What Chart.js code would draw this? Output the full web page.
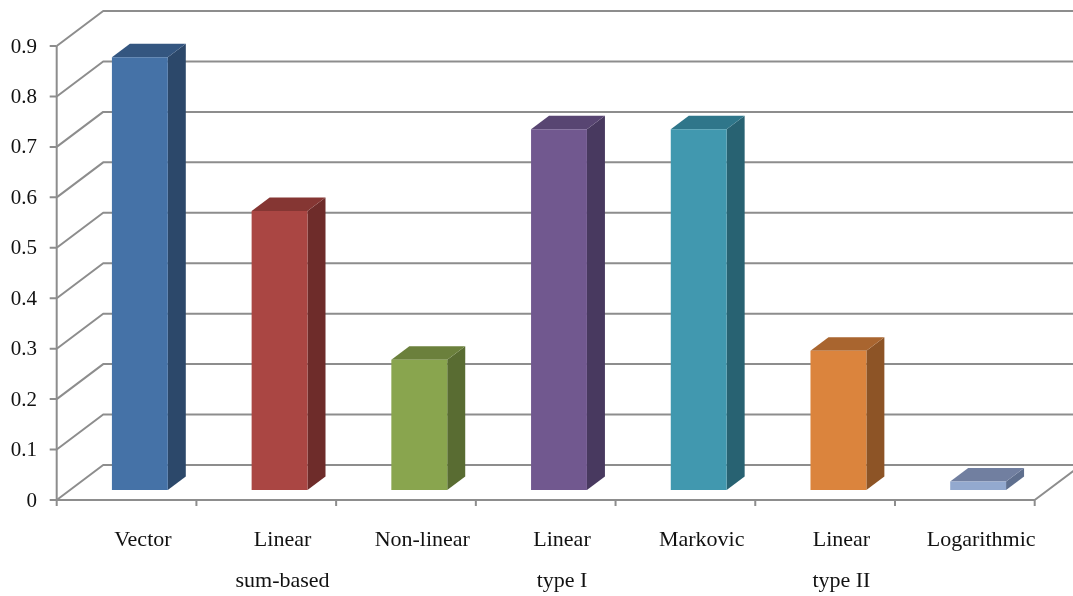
<!DOCTYPE html>
<html>
<head>
<meta charset="utf-8">
<title>Model comparison</title>
<script src="https://cdn.jsdelivr.net/npm/chart.js@4.4.1/dist/chart.umd.min.js"></script>
<style>
    html, body { margin: 0; padding: 0; background: #ffffff; }
    #wrap { width: 1073px; height: 596px; position: relative; }
</style>
</head>
<body>
<div id="wrap"><canvas id="modelChart"></canvas></div>
<script>
const CATEGORIES = [
    'Vector',
    ['Linear', 'sum-based'],
    'Non-linear',
    ['Linear', 'type I'],
    'Markovic',
    ['Linear', 'type II'],
    'Logarithmic'
];
const VALUES = [0.858, 0.553, 0.258, 0.715, 0.715, 0.276, 0.017];
const Y_TICK_LABELS = ['0', '0.1', '0.2', '0.3', '0.4', '0.5', '0.6', '0.7', '0.8', '0.9'];

// front / side / top shade per bar
const FRONT_COLORS = ['#4572A7', '#AA4643', '#89A54E', '#71588F', '#4198AF', '#DB843D', '#93A9CF'];
const SIDE_COLORS = ['#2C486A', '#6E2C2A', '#596C32', '#48395F', '#286272', '#8D5426', '#5F6F8E'];
const TOP_COLORS = ['#345680', '#853633', '#6B803C', '#584572', '#2F768A', '#A9652F', '#717FA0'];

// oblique depth of the plot box (front edge -> back wall)
const DEPTH_X = 46.5;
const DEPTH_Y = -35;
const BAR_FRONT = 0.286;   // bars' front face depth
const BAR_BACK = 0.673;    // bars' back face depth
const LINE_COLOR = '#8d8d8d';

Chart.defaults.font.family = "'Liberation Serif', 'Times New Roman', serif";
Chart.defaults.color = '#111111';

const box3d = {
    id: 'box3d',
    beforeDatasetsDraw(chart) {
        const ctx = chart.ctx;
        const area = chart.chartArea;
        const ys = chart.scales.y;
        const at = (x, v, f) => [x + (f - BAR_FRONT) * DEPTH_X, ys.getPixelForValue(v) + (f - BAR_FRONT) * DEPTH_Y];

        ctx.save();
        ctx.strokeStyle = LINE_COLOR;
        ctx.lineWidth = 2;
        ctx.lineJoin = 'round';

        // left wall diagonals + back wall gridlines
        ys.ticks.forEach(t => {
            const f = at(area.left, t.value, 0);
            const b = at(area.left, t.value, 1);
            ctx.beginPath();
            ctx.moveTo(f[0], f[1]);
            ctx.lineTo(b[0], b[1]);
            ctx.lineTo(chart.width + 5, b[1]);
            ctx.stroke();
        });

        // front vertical axis with ticks
        const top = at(area.left, ys.max, 0);
        const bot = at(area.left, 0, 0);
        ctx.beginPath();
        ctx.moveTo(top[0], top[1]);
        ctx.lineTo(bot[0], bot[1] + 6);
        ys.ticks.forEach(t => {
            const p = at(area.left, t.value, 0);
            ctx.moveTo(p[0] - 7, p[1]);
            ctx.lineTo(p[0], p[1]);
        });
        ctx.stroke();

        // floor: front edge, category ticks, right edge
        const fr = at(area.right, 0, 0);
        const br = at(area.right, 0, 1);
        ctx.beginPath();
        ctx.moveTo(bot[0], bot[1]);
        ctx.lineTo(fr[0], fr[1]);
        ctx.lineTo(br[0], br[1]);
        const n = CATEGORIES.length;
        for (let i = 1; i <= n; i++) {
            const p = at(area.left + i * area.width / n, 0, 0);
            ctx.moveTo(p[0], p[1]);
            ctx.lineTo(p[0], p[1] + 6);
        }
        ctx.stroke();

        // side and top faces of the bars
        const dx = (BAR_BACK - BAR_FRONT) * DEPTH_X;
        const dy = (BAR_BACK - BAR_FRONT) * DEPTH_Y;
        chart.getDatasetMeta(0).data.forEach((bar, i) => {
            const { x, y, base, width } = bar.getProps(['x', 'y', 'base', 'width'], true);
            const l = x - width / 2;
            const r = x + width / 2;
            ctx.fillStyle = SIDE_COLORS[i];
            ctx.beginPath();
            ctx.moveTo(r, y);
            ctx.lineTo(r + dx, y + dy);
            ctx.lineTo(r + dx, base + dy);
            ctx.lineTo(r, base);
            ctx.closePath();
            ctx.fill();
            ctx.fillStyle = TOP_COLORS[i];
            ctx.beginPath();
            ctx.moveTo(l, y);
            ctx.lineTo(l + dx, y + dy);
            ctx.lineTo(r + dx, y + dy);
            ctx.lineTo(r, y);
            ctx.closePath();
            ctx.fill();
        });
        ctx.restore();
    }
};

// fixed axis boxes, no automatic label overflow padding
function fixBox(scale, w, h) {
    if (w !== null) scale.width = w;
    if (h !== null) scale.height = h;
    scale.paddingTop = 0;
    scale.paddingBottom = 0;
    scale.paddingLeft = 0;
    scale.paddingRight = 0;
}

new Chart(document.getElementById('modelChart'), {
    type: 'bar',
    data: {
        labels: CATEGORIES,
        datasets: [{
            data: VALUES,
            backgroundColor: FRONT_COLORS,
            borderWidth: 0,
            categoryPercentage: 1,
            barPercentage: 0.4
        }]
    },
    options: {
        responsive: true,
        maintainAspectRatio: false,
        animation: false,
        devicePixelRatio: 1,
        layout: { padding: { top: 36, right: 25, left: 0, bottom: 0 } },
        plugins: { legend: { display: false }, tooltip: { enabled: false } },
        scales: {
            x: {
                grid: { display: false, drawTicks: false },
                border: { display: false },
                ticks: {
                    padding: 30,
                    labelOffset: 3,
                    maxRotation: 0,
                    autoSkip: false,
                    color: '#111111',
                    font: { size: 22, lineHeight: '40.5px' }
                },
                afterFit(scale) { fixBox(scale, null, 106); }
            },
            y: {
                min: 0,
                max: 0.9,
                grid: { display: false, drawTicks: false },
                border: { display: false },
                ticks: {
                    stepSize: 0.1,
                    padding: 33,
                    labelOffset: 11,
                    color: '#111111',
                    font: { size: 21 },
                    callback: (v, i) => Y_TICK_LABELS[i]
                },
                afterFit(scale) { fixBox(scale, 70, null); }
            }
        }
    },
    plugins: [box3d]
});
</script>
</body>
</html>
